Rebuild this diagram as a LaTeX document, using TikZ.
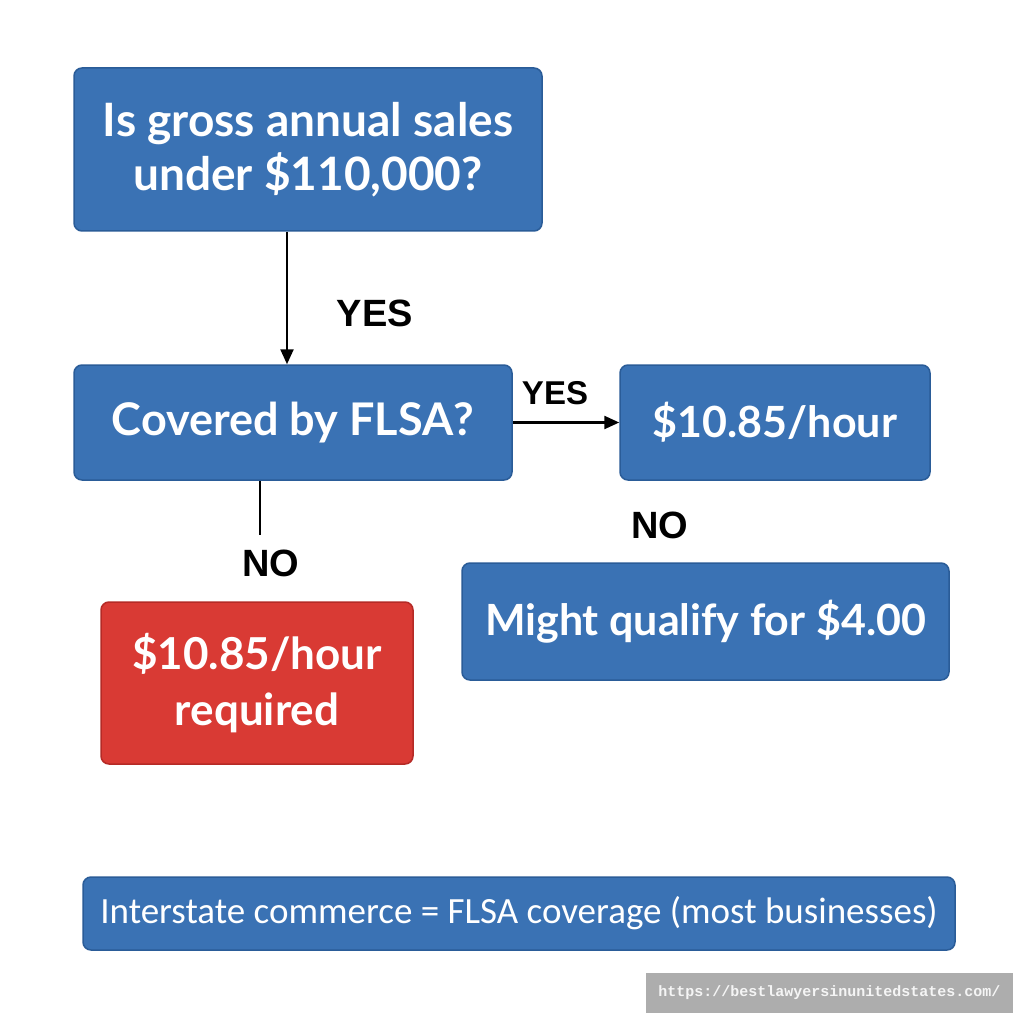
\documentclass[tikz,border=0pt]{standalone}
\usepackage{fontspec}
\setmainfont{Lato}
\newfontfamily\lbl{Liberation Sans}
\newfontfamily\lighttxt{Carlito}
\newfontfamily\wmfont{Liberation Mono}
\usetikzlibrary{arrows.meta}
\definecolor{boxblue}{HTML}{3A72B4}
\definecolor{edgeblue}{HTML}{2A5C98}
\definecolor{boxred}{HTML}{D93A34}
\definecolor{edgered}{HTML}{B52A26}
\definecolor{wmgray}{HTML}{ADADAD}
\tikzset{
  flowbox/.style={draw=edgeblue, line width=1.5pt, fill=boxblue, rounded corners=8pt,
    text=white, font=\bfseries\fontsize{44}{56}\selectfont, align=center, inner sep=0pt},
  redbox/.style={flowbox, draw=edgered, fill=boxred},
  lab/.style={font=\lbl\bfseries\fontsize{38}{40}\selectfont, text=black, inner sep=0pt},
  conn/.style={line width=2.4pt, draw=black},
  arr/.style={conn, -{Triangle[length=15pt,width=13pt]}}
}
\begin{document}
\begin{tikzpicture}[x=1pt,y=-1pt]
\useasboundingbox (0,0) rectangle (1024,1024);
\fill[white] (0,0) rectangle (1024,1024);
% boxes
\node[flowbox, minimum width=468pt, minimum height=163pt, font=\bfseries\fontsize{46}{54}\selectfont] (q1) at (308,149.5) {Is gross annual sales\\under \$110,000?};
\node[flowbox, minimum width=438pt, minimum height=115pt, font=\bfseries\fontsize{45}{54}\selectfont] (q2) at (293,422.5) {Covered by FLSA?};
\node[flowbox, minimum width=310pt, minimum height=115pt, font=\bfseries\fontsize{43}{54}\selectfont] (r1) at (775,422.5) {\$10.85/hour};
\node[flowbox, minimum width=487pt, minimum height=117pt, font=\bfseries\fontsize{43}{54}\selectfont] (r2) at (705.5,621.5) {Might qualify for \$4.00};
\node[redbox, minimum width=312pt, minimum height=162pt] (r3) at (257,683) {\$10.85/hour\\required};
\node[flowbox, minimum width=872pt, minimum height=73pt, font=\lighttxt\fontsize{37}{40}\selectfont] (note) at (519,913.5) {Interstate commerce = FLSA coverage (most businesses)};
% connectors
\coordinate (c1) at (287,0);
\coordinate (c2) at (260,0);
\coordinate (noend) at (260,535);
\draw[arr] (q1.south -| c1) -- (q2.north -| c1);
\draw[arr] (q2.east) -- (r1.west);
\draw[conn] (q2.south -| c2) -- (noend);
% labels
\node[lab] (yes1) at (375,313) {YES};
\node[lab, font=\lbl\bfseries\fontsize{33}{36}\selectfont] (yes2) at (555,393) {YES};
\node[lab] (no1) at (271,563) {NO};
\node[lab] (no2) at (660,525) {NO};
% watermark
\node[fill=wmgray, minimum width=367pt, minimum height=40pt, inner sep=0pt, text=white!92!gray, font=\wmfont\bfseries\fontsize{15}{16}\selectfont] (wm) at (829.5,993) {https://bestlawyersinunitedstates.com/};
\end{tikzpicture}
\end{document}
